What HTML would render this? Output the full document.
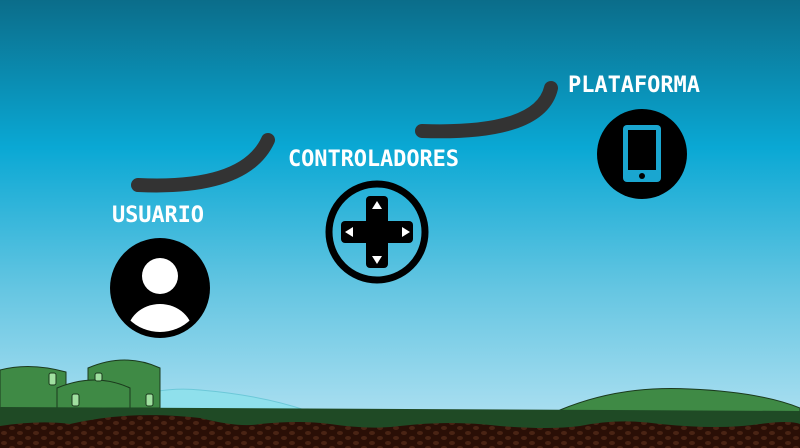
<!DOCTYPE html><html><head><style>body{margin:0}svg{display:block}</style></head><body>
<svg width="800" height="448" viewBox="0 0 800 448" xmlns="http://www.w3.org/2000/svg">
<defs>
<linearGradient id="sky" x1="0" y1="0" x2="0" y2="1">
<stop offset="0" stop-color="#0b6d8a"/><stop offset="0.33" stop-color="#0aa8d4"/><stop offset="0.65" stop-color="#66c6e2"/><stop offset="0.92" stop-color="#a8def0"/></linearGradient>
<pattern id="dirt" width="16" height="10" patternUnits="userSpaceOnUse"><rect width="16" height="10" fill="#2a0f06"/><ellipse cx="4" cy="3" rx="3" ry="2" fill="#4a2414"/><ellipse cx="12" cy="8" rx="3" ry="2" fill="#4a2414"/></pattern>
<clipPath id="uc"><circle cx="160" cy="288" r="44"/></clipPath>
</defs>
<rect width="800" height="448" fill="url(#sky)"/>
<path d="M100 410 Q150 385 200 390 Q260 395 305 410Z" fill="#8fe0ec" stroke="#6cc8d8"/>
<path d="M560 410 Q620 385 690 389 Q760 392 800 408 V412 H560Z" fill="#3f8a45" stroke="#1b3a1d"/>
<path d="M0 408 V370 Q30 362 66 372 V408Z" fill="#3f8a45" stroke="#1b3a1d"/>
<path d="M88 408 V368 Q125 352 160 368 V408Z" fill="#3f8a45" stroke="#1b3a1d"/>
<path d="M57 408 V388 Q95 372 130 388 V408Z" fill="#3f8a45" stroke="#1b3a1d"/>
<rect x="49" y="373" width="7" height="12" rx="2" fill="#a0e0a0" stroke="#1b3a1d"/>
<rect x="95" y="373" width="7" height="8" rx="2" fill="#a0e0a0" stroke="#1b3a1d"/>
<rect x="72" y="394" width="7" height="12" rx="2" fill="#a0e0a0" stroke="#1b3a1d"/>
<rect x="146" y="394" width="7" height="12" rx="2" fill="#a0e0a0" stroke="#1b3a1d"/>
<path d="M0 407 L800 411 V448 H0Z" fill="#1f4a25"/>
<path d="M0 426 Q40 420 70 424 Q130 410 200 418 Q240 428 260 424 Q300 420 330 424 Q370 430 400 426 Q450 420 500 426 Q550 430 580 426 Q620 418 660 424 Q720 430 760 424 Q790 420 800 424 V448 H0Z" fill="url(#dirt)"/>
<path d="M138 185 Q245 190 268 140" fill="none" stroke="#333" stroke-width="14" stroke-linecap="round"/>
<path d="M422 131 Q540 135 551 88" fill="none" stroke="#333" stroke-width="14" stroke-linecap="round"/>
<g font-family="'DejaVu Sans Mono','Liberation Mono',monospace" font-weight="bold" font-size="22" fill="#fff">
<text x="112" y="222" textLength="92">USUARIO</text>
<text x="288" y="166" textLength="171">CONTROLADORES</text>
<text x="568" y="92" textLength="132">PLATAFORMA</text>
</g>
<circle cx="160" cy="288" r="50" fill="#000"/>
<g clip-path="url(#uc)" fill="#fff"><circle cx="160" cy="276" r="18"/><ellipse cx="160" cy="334" rx="33" ry="30"/></g>
<circle cx="377" cy="232" r="48" fill="none" stroke="#000" stroke-width="7"/>
<rect x="366" y="196" width="22" height="72" rx="4" fill="#000"/>
<rect x="341" y="221" width="72" height="22" rx="4" fill="#000"/>
<g fill="#fff"><path d="M377 201 l5 8 h-10z"/><path d="M377 264 l5 -8 h-10z"/><path d="M345 232 l8 -5 v10z"/><path d="M410 232 l-8 -5 v10z"/></g>
<circle cx="642" cy="154" r="45" fill="#000"/>
<rect x="623" y="125" width="38" height="57" rx="4" fill="#1aa6d0"/>
<rect x="628" y="130" width="28" height="40" fill="#000"/>
<circle cx="642" cy="176" r="3" fill="#000"/>
</svg></body></html>
